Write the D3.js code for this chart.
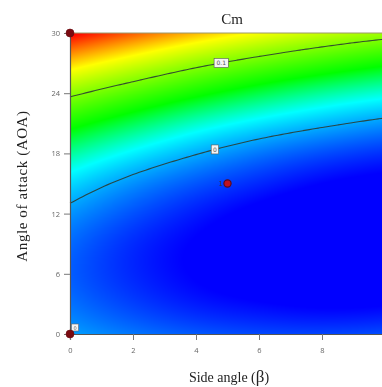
<!DOCTYPE html>
<html><head><meta charset="utf-8">
<script src="https://cdn.jsdelivr.net/npm/d3@7"></script>
<style>
html,body{margin:0;padding:0;background:#fff;overflow:hidden;}
#wrap{position:relative;width:382px;height:387px;}
canvas,svg{position:absolute;left:0;top:0;}
</style></head>
<body><div id="wrap"><canvas id="cv" width="382" height="387"></canvas><svg id="sv" width="382" height="387"></svg></div>
<script>
// Side angle (beta) grid columns and angle-of-attack grid rows
const betaGrid = [0, 2, 4, 6, 8, 10];
const aoaGrid = [0, 3, 6, 9, 12, 15, 18, 21, 24, 27, 30];
// Cm values: one row per AOA, one column per beta
const cmRow00 = [-0.002, -0.012, -0.019, -0.023, -0.024, -0.022];
const cmRow03 = [-0.013, -0.025, -0.034, -0.039, -0.042, -0.041];
const cmRow06 = [-0.018, -0.031, -0.041, -0.048, -0.052, -0.053];
const cmRow09 = [-0.015, -0.030, -0.041, -0.049, -0.055, -0.058];
const cmRow12 = [-0.005, -0.021, -0.034, -0.044, -0.051, -0.055];
const cmRow15 = [0.012, -0.006, -0.020, -0.031, -0.040, -0.045];
const cmRow18 = [0.036, 0.017, 0.001, -0.012, -0.022, -0.029];
const cmRow21 = [0.067, 0.047, 0.029, 0.015, 0.004, -0.005];
const cmRow24 = [0.105, 0.084, 0.065, 0.049, 0.036, 0.026];
const cmRow27 = [0.151, 0.128, 0.107, 0.090, 0.076, 0.064];
const cmRow30 = [0.203, 0.179, 0.157, 0.138, 0.122, 0.110];
const cmRows = [cmRow00, cmRow03, cmRow06, cmRow09, cmRow12, cmRow15, cmRow18, cmRow21, cmRow24, cmRow27, cmRow30];
// contour levels and their labels
const contourLevels = [0, 0.1];
const contourLabels = ["0", "0.1"];
const contourLabelBeta = [4.6, 4.8];
// design points visible in the frame
const designBeta = [0, 0, 5];
const designAoa = [30, 0, 15];
// ticks
const xTicks = [0, 2, 4, 6, 8, 10];
const yTicks = [0, 6, 12, 18, 24, 30];
// colour ramp stops (Cm value -> colour)
const rampValues = [-0.04, 0.02, 0.06, 0.14, 0.2];
const rampColors = ["#0000ff", "#00ffff", "#00ff00", "#ffff00", "#ff0000"];

const x = d3.scaleLinear().domain([0, 10]).range([70, 385]);
const y = d3.scaleLinear().domain([0, 30]).range([334, 33]);
const color = d3.scaleLinear().domain(rampValues).range(rampColors).clamp(true);

// Catmull-Rom interpolation along one axis (quadratic extrapolation at the ends)
function cr(arr, t) {
  const n = arr.length;
  const get = i => {
    if (i < 0) return 3 * arr[0] - 3 * arr[1] + arr[2];
    if (i > n - 1) return 3 * arr[n - 1] - 3 * arr[n - 2] + arr[n - 3];
    return arr[i];
  };
  let i = Math.floor(t);
  if (i >= n - 1) i = n - 2;
  if (i < 0) i = 0;
  const u = t - i;
  const p0 = get(i - 1), p1 = get(i), p2 = get(i + 1), p3 = get(i + 2);
  return 0.5 * ((2 * p1) + (-p0 + p2) * u + (2 * p0 - 5 * p1 + 4 * p2 - p3) * u * u + (-p0 + 3 * p1 - 3 * p2 + p3) * u * u * u);
}
const bIdx = d3.scaleLinear().domain(betaGrid).range(d3.range(betaGrid.length));
const aIdx = d3.scaleLinear().domain(aoaGrid).range(d3.range(aoaGrid.length));
function cmAt(b, a) {
  const tb = bIdx(b), ta = aIdx(a);
  const col = cmRows.map(r => cr(r, tb));
  return cr(col, ta);
}

// heat map on canvas
const cv = document.getElementById("cv");
const ctx = cv.getContext("2d");
const x0 = Math.round(x(0)), x1 = 382, yTop = Math.round(y(30)), yBot = Math.round(y(0));
const img = ctx.createImageData(x1 - x0, yBot - yTop);
for (let px = x0; px < x1; px++) {
  const tb = bIdx(x.invert(px + 0.5));
  const col = cmRows.map(r => cr(r, tb));
  for (let py = yTop; py < yBot; py++) {
    const c = d3.rgb(color(cr(col, aIdx(y.invert(py + 0.5)))));
    const k = ((py - yTop) * (x1 - x0) + (px - x0)) * 4;
    img.data[k] = c.r; img.data[k + 1] = c.g; img.data[k + 2] = c.b; img.data[k + 3] = 255;
  }
}
ctx.putImageData(img, x0, yTop);

const svg = d3.select("#sv");

// contour lines: for each beta find the AOA where Cm crosses the level
function contourPoints(level) {
  const pts = [];
  for (let b = 0; b <= 10.0001; b += 0.1) {
    let prev = cmAt(b, 0);
    for (let a = 0.05; a <= 30.0001; a += 0.05) {
      const cur = cmAt(b, a);
      if ((prev - level) * (cur - level) <= 0 && prev !== cur) {
        const t = (level - prev) / (cur - prev);
        pts.push([b, a - 0.05 + 0.05 * t]);
        break;
      }
      prev = cur;
    }
  }
  return pts;
}
const line = d3.line().x(d => x(d[0])).y(d => y(d[1])).curve(d3.curveBasis);
contourLevels.forEach((lv, i) => {
  const pts = contourPoints(lv);
  svg.append("path").attr("d", line(pts)).attr("fill", "none")
    .attr("stroke", "#2b3d33").attr("stroke-width", 1.1).attr("opacity", 0.9);
  const b = contourLabelBeta[i];
  const p = pts.reduce((m, d) => Math.abs(d[0] - b) < Math.abs(m[0] - b) ? d : m, pts[0]);
  const g = svg.append("g").attr("transform", `translate(${x(p[0])},${y(p[1])})`);
  const w = contourLabels[i].length * 3.4 + 4;
  g.append("rect").attr("x", -w / 2).attr("y", -4.5).attr("width", w).attr("height", 9)
    .attr("fill", "#f4f4f4").attr("stroke", "#555").attr("stroke-width", 0.6);
  g.append("text").attr("text-anchor", "middle").attr("y", 2.5)
    .attr("font-family", "DejaVu Sans, sans-serif").attr("font-size", 6).attr("fill", "#555")
    .text(contourLabels[i]);
});

// frame
svg.append("line").attr("x1", x(0)).attr("x2", 382).attr("y1", y(30)).attr("y2", y(30))
  .attr("stroke", "#9a9a6a").attr("stroke-width", 1);

// axes
const axL = svg.append("g").attr("transform", `translate(${x(0)},0)`)
  .call(d3.axisLeft(y).tickValues(yTicks).tickSize(6).tickPadding(4));
const axB = svg.append("g").attr("transform", `translate(0,${y(0)})`)
  .call(d3.axisBottom(x).tickValues(xTicks).tickSize(6).tickPadding(8));
[axL, axB].forEach(ax => {
  ax.select(".domain").attr("stroke", "#555").attr("stroke-width", 1.2);
  ax.selectAll(".tick line").attr("stroke", "#777");
  ax.selectAll(".tick text").attr("fill", "#666").attr("font-size", 7.5)
    .attr("font-family", "Open Sans, DejaVu Sans, sans-serif");
});

// design point label at origin
svg.append("rect").attr("x", x(0) + 1.5).attr("y", y(0) - 10).attr("width", 7).attr("height", 7)
  .attr("fill", "#f4f4f4").attr("stroke", "#666").attr("stroke-width", 0.6);
svg.append("text").attr("x", x(0) + 5).attr("y", y(0) - 4.5).attr("text-anchor", "middle")
  .attr("font-size", 5).attr("fill", "#666").attr("font-family", "DejaVu Sans, sans-serif").text("0");

// design points
designBeta.forEach((b, i) => {
  const centre = (b === 5);
  svg.append("circle").attr("cx", x(b)).attr("cy", y(designAoa[i])).attr("r", centre ? 3.6 : 4)
    .attr("fill", centre ? "#c0121e" : "#7a0a10").attr("stroke", centre ? "#5a0a20" : "#6a0a10")
    .attr("stroke-width", centre ? 1.2 : 0.6);
});
svg.append("text").attr("x", x(5) - 7).attr("y", y(15) + 2.5).attr("text-anchor", "middle")
  .attr("font-size", 7).attr("fill", "#334").attr("font-family", "DejaVu Sans, sans-serif").text("1");

// titles
svg.append("text").attr("x", 232).attr("y", 24).attr("text-anchor", "middle")
  .attr("font-family", "Liberation Serif, serif").attr("font-size", 15).attr("fill", "#222").text("Cm");
svg.append("text").attr("x", 229).attr("y", 382).attr("text-anchor", "middle")
  .attr("font-family", "Liberation Serif, serif").attr("font-size", 14).attr("fill", "#222")
  .html('Side angle (<tspan font-size="17">β</tspan>)');
svg.append("text").attr("transform", "translate(27,186) rotate(-90)").attr("text-anchor", "middle")
  .attr("font-family", "Liberation Serif, serif").attr("font-size", 15).attr("fill", "#222")
  .attr("letter-spacing", 0.6).text("Angle of attack (AOA)");
</script></body></html>
